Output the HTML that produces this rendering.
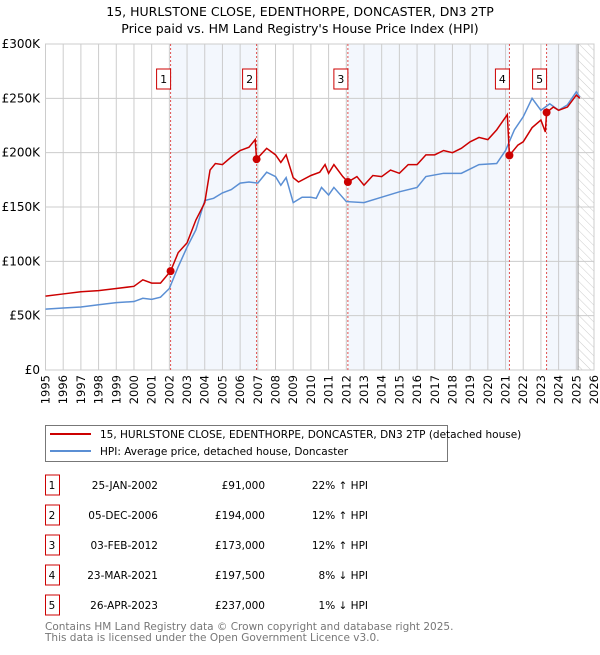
<!DOCTYPE html>
<html><head><meta charset="utf-8"><style>
body{margin:0;background:#fff;}
svg text{font-family:"DejaVu Sans","Liberation Sans",sans-serif;}
</style></head><body>
<svg id="chart" width="600" height="650" xmlns="http://www.w3.org/2000/svg">
<defs><pattern id="hatch" width="6" height="6" patternUnits="userSpaceOnUse" patternTransform="rotate(-45)"><line x1="0" y1="0" x2="0" y2="6" stroke="#ccc" stroke-width="1"/></pattern></defs>
<text x="300" y="16" text-anchor="middle" font-size="12.5">15, HURLSTONE CLOSE, EDENTHORPE, DONCASTER, DN3 2TP</text>
<text x="300" y="33" text-anchor="middle" font-size="12.5">Price paid vs. HM Land Registry's House Price Index (HPI)</text>
<g id="plot"></g>
<rect x="45.5" y="425.5" width="402" height="36" fill="#fff" stroke="#777"/>
<line x1="50" y1="434" x2="91" y2="434" stroke="#cc0000" stroke-width="2"/>
<text x="100" y="438" font-size="10.5">15, HURLSTONE CLOSE, EDENTHORPE, DONCASTER, DN3 2TP (detached house)</text>
<line x1="50" y1="451" x2="91" y2="451" stroke="#5b8fd4" stroke-width="2"/>
<text x="100" y="455" font-size="10.5">HPI: Average price, detached house, Doncaster</text>
<g id="table" font-size="10.5"></g>
<text x="45" y="630" font-size="10.5" fill="#777">Contains HM Land Registry data © Crown copyright and database right 2025.</text>
<text x="45" y="641" font-size="10.5" fill="#777">This data is licensed under the Open Government Licence v3.0.</text>
</svg>
<script>
const hpiYears=[1995,1996,1997,1998,1999,2000,2000.5,2001,2001.5,2002,2002.5,2003,2003.5,2004,2004.5,2005,2005.5,2006,2006.5,2007,2007.5,2008,2008.3,2008.6,2009,2009.5,2010,2010.3,2010.6,2011,2011.3,2012,2013,2014,2015,2016,2016.5,2017.5,2018.5,2019.5,2020.5,2021,2021.5,2022,2022.5,2023,2023.5,2024,2024.5,2025,2025.2];
const hpiValues=[56,57,58,60,62,63,66,65,67,75,95,113,129,156,158,163,166,172,173,172,182,178,170,177,154,159,159,158,168,161,168,155,154,159,164,168,178,181,181,189,190,202,221,233,250,239,245,239,244,256,251];
const redYears=[1995,1996,1997,1998,1999,2000,2000.5,2001,2001.5,2002.07,2002.5,2003,2003.5,2004,2004.3,2004.6,2005,2005.5,2006,2006.5,2006.85,2006.93,2007.5,2008,2008.3,2008.6,2009,2009.3,2010,2010.5,2010.8,2011,2011.3,2011.8,2012.09,2012.6,2013,2013.5,2014,2014.5,2015,2015.5,2016,2016.5,2017,2017.5,2018,2018.5,2019,2019.5,2020,2020.5,2021.1,2021.22,2021.7,2022,2022.5,2023,2023.25,2023.32,2023.7,2024,2024.5,2025,2025.2];
const redValues=[68,70,72,73,75,77,83,80,80,91,108,117,138,154,184,190,189,196,202,205,212,194,204,198,191,198,177,173,179,182,189,181,189,178,173,178,170,179,178,184,181,189,189,198,198,202,200,204,210,214,212,221,235,197.5,207,210,223,230,219,237,242,239,242,253,250];
const saleYears=[2002.07,2006.93,2012.09,2021.22,2023.32];
const salePrices=[91,194,173,197.5,237];
const saleLabels=["1","2","3","4","5"];
const saleDates=["25-JAN-2002","05-DEC-2006","03-FEB-2012","23-MAR-2021","26-APR-2023"];
const salePriceText=["£91,000","£194,000","£173,000","£197,500","£237,000"];
const saleHpi=["22% ↑ HPI","12% ↑ HPI","12% ↑ HPI","8% ↓ HPI","1% ↓ HPI"];
const yTicks=[0,50,100,150,200,250,300];
const yTickLabels=["£0","£50K","£100K","£150K","£200K","£250K","£300K"];
const xTicks=[1995,1996,1997,1998,1999,2000,2001,2002,2003,2004,2005,2006,2007,2008,2009,2010,2011,2012,2013,2014,2015,2016,2017,2018,2019,2020,2021,2022,2023,2024,2025,2026];

const NS="http://www.w3.org/2000/svg";
const X0=45.5,X1=594,Y0=370,Y1=44;
const x=v=>X0+(v-1995)*(X1-X0)/31;
const y=v=>Y0-v*(Y0-Y1)/300;
const plot=document.getElementById('plot');
function mk(tag,attrs,parent){const e=document.createElementNS(NS,tag);for(const k in attrs)e.setAttribute(k,attrs[k]);(parent||plot).appendChild(e);return e;}
const bands=[[0,1],[2,3],[4,null]];
bands.forEach((b,i)=>{const xa=x(saleYears[b[0]]),xb=b[1]===null?x(2025.1):x(saleYears[b[1]]);
const r=mk('rect',{x:xa,y:Y1,width:xb-xa,height:Y0-Y1,fill:'#eef3fc',opacity:0.7});

});
const h=mk('rect',{x:x(2025.1),y:Y1,width:X1-x(2025.1),height:Y0-Y1,fill:'url(#hatch)'});


yTicks.forEach((t,i)=>{const l=mk('line',{x1:X0,x2:X1,y1:y(t),y2:y(t),stroke:'#ccc'});


const tx=mk('text',{x:40,y:y(t)+4,'text-anchor':'end','font-size':12});tx.textContent=yTickLabels[i];

});
xTicks.forEach(t=>{const l=mk('line',{x1:x(t),x2:x(t),y1:Y1,y2:Y0,stroke:'#ccc'});


const tx=mk('text',{x:0,y:0,'text-anchor':'end','font-size':11.5,transform:'translate('+(x(t)+4)+',375) rotate(-90)'});tx.textContent=t;

});
const fr=mk('rect',{x:X0,y:Y1,width:X1-X0,height:Y0-Y1,fill:'none',stroke:'#ccc'});


const nl=mk('line',{x1:x(2025.1),x2:x(2025.1),y1:Y1,y2:Y0,stroke:'#999'});


saleYears.forEach((s,i)=>{const l=mk('line',{x1:x(s),x2:x(s),y1:Y1,y2:Y0,stroke:'#e05050','stroke-dasharray':'2,2'});


const bx=mk('rect',{x:x(s)-14,y:69,width:14,height:20,fill:'#fff',stroke:'#cc0000'});


const t=mk('text',{x:x(s)-7,y:83,'text-anchor':'middle','font-size':11});t.textContent=saleLabels[i];

});
const hp=mk('polyline',{points:hpiYears.map((v,i)=>x(v)+','+y(hpiValues[i])).join(' '),fill:'none',stroke:'#5b8fd4','stroke-width':1.5});


const rp=mk('polyline',{points:redYears.map((v,i)=>x(v)+','+y(redValues[i])).join(' '),fill:'none',stroke:'#cc0000','stroke-width':1.5});


saleYears.forEach((s,i)=>{const c=mk('circle',{cx:x(s),cy:y(salePrices[i]),r:4,fill:'#cc0000'});

});
const tb=document.getElementById('table');
saleLabels.forEach((lb,i)=>{const yy=485+i*30;
const r=mk('rect',{x:45.5,y:yy-10,width:14,height:20,fill:'#fff',stroke:'#cc0000'},tb);


const cells=[[52,'middle',lb,'table-row-number'],[158,'end',saleDates[i],'table-date'],[265,'end',salePriceText[i],'table-price'],[368,'end',saleHpi[i],'table-hpi-diff']];
cells.forEach(c=>{const t=mk('text',{x:c[0],y:yy+4,'text-anchor':c[1]},tb);t.textContent=c[2];

});});
</script>
</body></html>
